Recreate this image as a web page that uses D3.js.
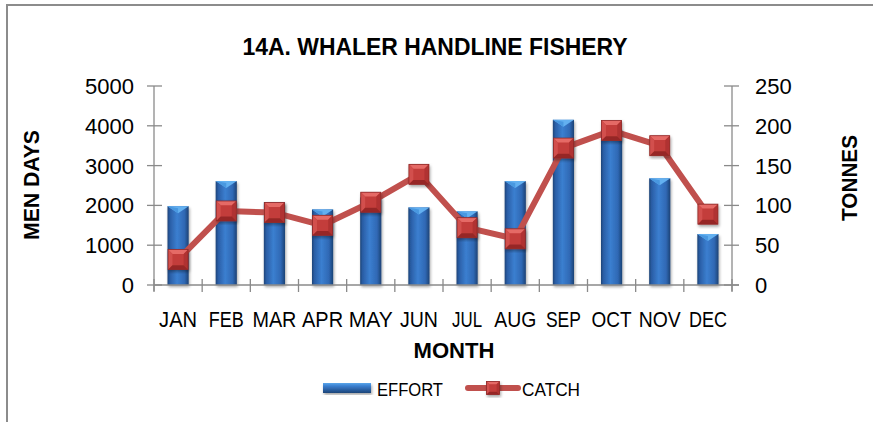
<!DOCTYPE html>
<html>
<head>
<meta charset="utf-8">
<script src="https://cdn.jsdelivr.net/npm/d3@7/dist/d3.min.js"></script>
<style>
  html, body { margin: 0; padding: 0; background: #fff; }
  svg { display: block; }
  text { font-family: "Liberation Sans", Arial, sans-serif; fill: #000; }
</style>
</head>
<body>
<svg id="chart" width="873" height="422"></svg>
<script>
// Monthly effort (men days) and catch (tonnes) for the whaler handline fishery
const months = ["JAN","FEB","MAR","APR","MAY","JUN","JUL","AUG","SEP","OCT","NOV","DEC"];
const effort = [1980, 2610, 2080, 1900, 2200, 1950, 1850, 2610, 4150, 3900, 2680, 1280];
const catchT = [32, 93, 91, 75, 104, 139, 72, 58, 172, 194, 175, 89];
const leftTicks = [0, 1000, 2000, 3000, 4000, 5000];
const rightTicks = [0, 50, 100, 150, 200, 250];

const svg = d3.select("#chart");
const m = { left: 154, right: 732, top: 86, bottom: 285 };

const x = d3.scaleBand().domain(months).range([m.left, m.right]).paddingInner(0.56).paddingOuter(0.28);
const xCenter = d => x(d) + x.bandwidth() / 2;
const yL = d3.scaleLinear().domain([0, 5000]).range([m.bottom, m.top]);
const yR = d3.scaleLinear().domain([0, 250]).range([m.bottom, m.top]);

// Condensed label widths (the labels are squeezed to a narrow face)
const labelW = { JAN: 38, FEB: 35, MAR: 44, APR: 41, MAY: 44, JUN: 38, JUL: 30, AUG: 42, SEP: 35, OCT: 40, NOV: 42, DEC: 38 };

const defs = svg.append("defs");
const barGrad = defs.append("linearGradient").attr("id", "barGrad").attr("x1", 0).attr("x2", 1).attr("y1", 0).attr("y2", 0);
[[0, "#1d4478"], [0.12, "#2a5ea6"], [0.45, "#3b7fd0"], [0.8, "#2f68b4"], [1, "#1c4275"]]
  .forEach(([o, c]) => barGrad.append("stop").attr("offset", o).attr("stop-color", c));
const swGrad = defs.append("linearGradient").attr("id", "swGrad").attr("x1", 0).attr("x2", 0).attr("y1", 0).attr("y2", 1);
[[0, "#5aa6ea"], [0.3, "#3b7fd0"], [1, "#1d4478"]].forEach(([o, c]) => swGrad.append("stop").attr("offset", o).attr("stop-color", c));
const shadow = defs.append("filter").attr("id", "shadow").attr("x", "-30%").attr("y", "-10%").attr("width", "160%").attr("height", "130%");
shadow.append("feGaussianBlur").attr("in", "SourceAlpha").attr("stdDeviation", 1.5);
shadow.append("feOffset").attr("dx", 1).attr("dy", 1.5).attr("result", "b");
shadow.append("feComponentTransfer").append("feFuncA").attr("type", "linear").attr("slope", 0.35);
const mg = shadow.append("feMerge");
mg.append("feMergeNode");
mg.append("feMergeNode").attr("in", "SourceGraphic");

// Outer chart frame
svg.append("rect").attr("x", 7).attr("y", 5).attr("width", 900).attr("height", 450)
  .attr("fill", "none").attr("stroke", "#8c8c8c").attr("stroke-width", 2);

// Title
svg.append("text").attr("x", 435).attr("y", 55).attr("text-anchor", "middle")
  .attr("font-size", 24).attr("font-weight", "bold")
  .attr("textLength", 385).attr("lengthAdjust", "spacingAndGlyphs")
  .text("14A. WHALER HANDLINE FISHERY");

// Bars
const bars = svg.append("g");
months.forEach((mo, i) => {
  const bx = x(mo), bw = x.bandwidth(), top = yL(effort[i]);
  const g = bars.append("g").attr("filter", "url(#shadow)");
  g.append("rect").attr("x", bx).attr("y", top).attr("width", bw).attr("height", yL(0) - top)
    .attr("fill", "url(#barGrad)");
  g.append("path").attr("d", `M${bx},${top}L${bx + bw},${top}L${bx + bw / 2},${top + 7}Z`)
    .attr("fill", "#63b0f0");
  g.append("path").attr("d", `M${bx},${top}L${bx + bw / 2},${top + 7}L${bx + bw / 2},${top + 2}Z`)
    .attr("fill", "#4a98e0");
});

// Axes
const axisColor = "#8a8a8a";
const ax = svg.append("g").attr("stroke", axisColor).attr("stroke-width", 1.3);
ax.append("line").attr("x1", m.left).attr("x2", m.left).attr("y1", m.top).attr("y2", m.bottom + 6);
ax.append("line").attr("x1", m.right).attr("x2", m.right).attr("y1", m.top).attr("y2", m.bottom + 6);
ax.append("line").attr("x1", m.left).attr("x2", m.right + 7).attr("y1", m.bottom).attr("y2", m.bottom);
leftTicks.forEach(t => ax.append("line").attr("x1", m.left - 7).attr("x2", m.left + 8).attr("y1", yL(t)).attr("y2", yL(t)));
rightTicks.forEach(t => ax.append("line").attr("x1", m.right - 8).attr("x2", m.right + 7).attr("y1", yR(t)).attr("y2", yR(t)));
d3.range(months.length + 1).forEach(k => {
  const px = m.left + k * (m.right - m.left) / months.length;
  ax.append("line").attr("x1", px).attr("x2", px).attr("y1", m.bottom - 6).attr("y2", m.bottom + 7);
});

// Tick labels
svg.append("g").selectAll("text").data(leftTicks).join("text")
  .attr("x", 134).attr("y", d => yL(d) + 8).attr("text-anchor", "end").attr("font-size", 22)
  .text(d => d);
svg.append("g").selectAll("text").data(rightTicks).join("text")
  .attr("x", 755).attr("y", d => yR(d) + 8).attr("text-anchor", "start").attr("font-size", 22)
  .text(d => d);
svg.append("g").selectAll("text").data(months).join("text")
  .attr("x", d => xCenter(d)).attr("y", 327).attr("text-anchor", "middle").attr("font-size", 22)
  .attr("textLength", d => labelW[d]).attr("lengthAdjust", "spacingAndGlyphs")
  .text(d => d);

// Axis titles
svg.append("text").attr("x", 454).attr("y", 358).attr("text-anchor", "middle")
  .attr("font-size", 22).attr("font-weight", "bold").attr("textLength", 81).attr("lengthAdjust", "spacingAndGlyphs")
  .text("MONTH");
svg.append("text").attr("transform", "translate(39,185) rotate(-90)").attr("text-anchor", "middle")
  .attr("font-size", 22).attr("font-weight", "bold").attr("textLength", 110).attr("lengthAdjust", "spacingAndGlyphs")
  .text("MEN DAYS");
svg.append("text").attr("transform", "translate(857,178) rotate(-90)").attr("text-anchor", "middle")
  .attr("font-size", 22).attr("font-weight", "bold").attr("textLength", 86).attr("lengthAdjust", "spacingAndGlyphs")
  .text("TONNES");

// Catch line
const line = d3.line().x((d, i) => xCenter(months[i])).y(d => yR(d));
svg.append("path").datum(catchT).attr("d", line).attr("fill", "none")
  .attr("stroke", "#c0504d").attr("stroke-width", 6).attr("stroke-linejoin", "round");

// Bevelled square marker
function marker(g, cx, cy, s) {
  const h = s / 2, b = s * 0.22;
  const o = [cx - h, cy - h, cx + h, cy + h];
  const i = [cx - h + b, cy - h + b, cx + h - b, cy + h - b];
  const mk = g.append("g").attr("filter", "url(#shadow)");
  mk.append("rect").attr("x", o[0]).attr("y", o[1]).attr("width", s).attr("height", s).attr("fill", "#c33c3a");
  mk.append("path").attr("d", `M${o[0]},${o[1]}L${o[2]},${o[1]}L${i[2]},${i[1]}L${i[0]},${i[1]}Z`).attr("fill", "#e56a66");
  mk.append("path").attr("d", `M${o[0]},${o[1]}L${i[0]},${i[1]}L${i[0]},${i[3]}L${o[0]},${o[3]}Z`).attr("fill", "#d2504d");
  mk.append("path").attr("d", `M${o[2]},${o[1]}L${i[2]},${i[1]}L${i[2]},${i[3]}L${o[2]},${o[3]}Z`).attr("fill", "#b03330");
  mk.append("path").attr("d", `M${o[0]},${o[3]}L${i[0]},${i[3]}L${i[2]},${i[3]}L${o[2]},${o[3]}Z`).attr("fill", "#962826");
  mk.append("rect").attr("x", o[0]).attr("y", o[1]).attr("width", s).attr("height", s)
    .attr("fill", "none").attr("stroke", "#8f2a28").attr("stroke-width", 0.8);
}
const markers = svg.append("g");
catchT.forEach((v, i) => marker(markers, xCenter(months[i]), yR(v), 20));

// Legend
const lg = svg.append("g");
lg.append("g").attr("filter", "url(#shadow)")
  .append("rect").attr("x", 323).attr("y", 383).attr("width", 48).attr("height", 10).attr("fill", "url(#swGrad)");
lg.append("text").attr("x", 377).attr("y", 396).attr("font-size", 18)
  .attr("textLength", 66).attr("lengthAdjust", "spacingAndGlyphs").text("EFFORT");
lg.append("line").attr("x1", 468).attr("x2", 518).attr("y1", 388).attr("y2", 388)
  .attr("stroke", "#c0504d").attr("stroke-width", 6).attr("stroke-linecap", "round");
marker(lg, 493, 388, 13);
lg.append("text").attr("x", 522).attr("y", 396).attr("font-size", 18)
  .attr("textLength", 58).attr("lengthAdjust", "spacingAndGlyphs").text("CATCH");
</script>
</body>
</html>
